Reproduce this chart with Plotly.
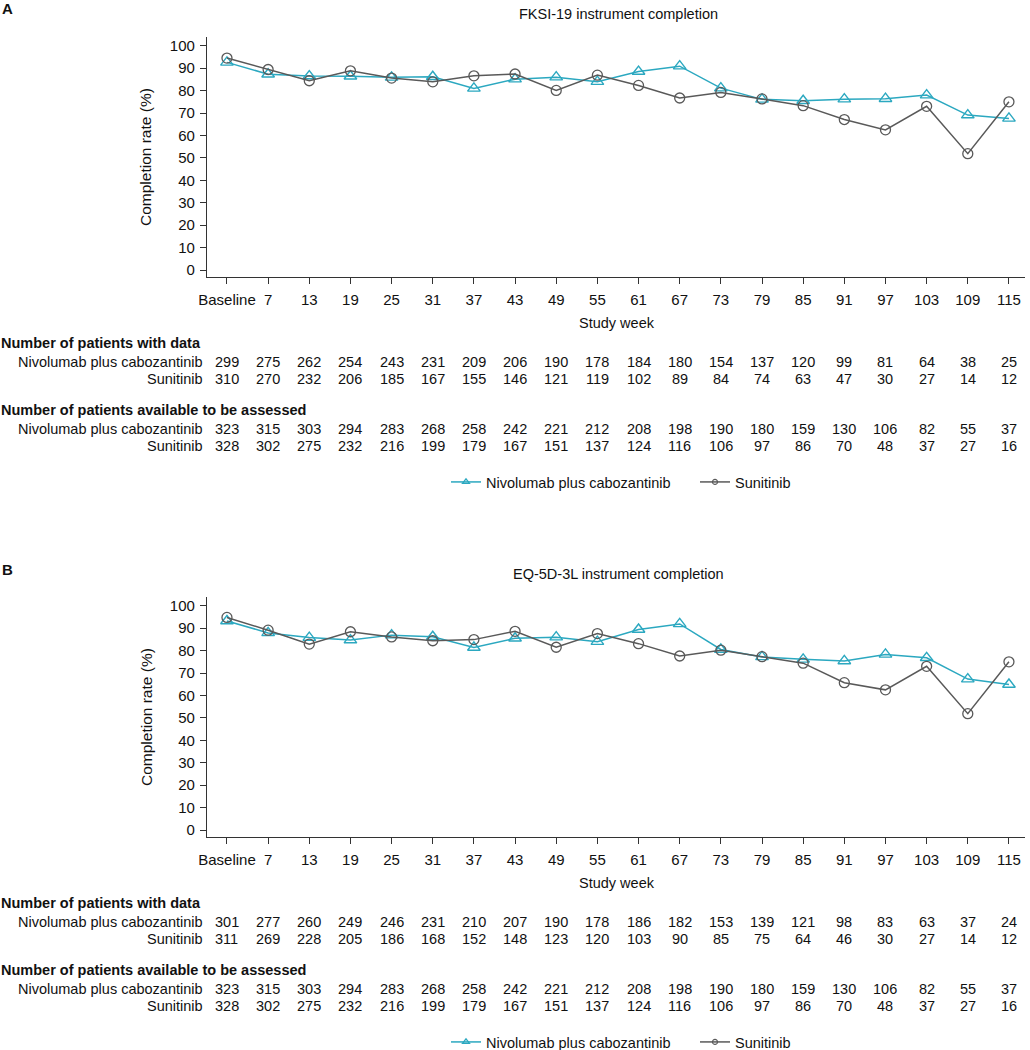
import plotly.graph_objects as go

W, H = 1030, 1050
FONT = "Liberation Sans, Arial, Helvetica, sans-serif"
TEAL = "#2BA8C0"
GREY = "#595959"
INK = "#111111"

weeks = ["Baseline", "7", "13", "19", "25", "31", "37", "43", "49", "55", "61",
         "67", "73", "79", "85", "91", "97", "103", "109", "115"]

# Panel A - FKSI-19 completion rate (%)
fksi_nivo = [92.6, 87.3, 86.5, 86.4, 85.9, 86.2, 81.0, 85.1, 86.0, 84.0, 88.5,
             90.9, 81.1, 76.1, 75.5, 76.2, 76.4, 78.0, 69.1, 67.6]
fksi_suni = [94.5, 89.4, 84.4, 88.8, 85.6, 83.9, 86.6, 87.4, 80.1, 86.9, 82.3,
             76.7, 79.2, 76.3, 73.3, 67.1, 62.5, 73.0, 51.9, 75.0]
fksi_data_nivo = [299, 275, 262, 254, 243, 231, 209, 206, 190, 178, 184, 180, 154, 137, 120, 99, 81, 64, 38, 25]
fksi_data_suni = [310, 270, 232, 206, 185, 167, 155, 146, 121, 119, 102, 89, 84, 74, 63, 47, 30, 27, 14, 12]

# Panel B - EQ-5D-3L completion rate (%)
eq_nivo = [93.2, 87.9, 85.8, 84.7, 86.9, 86.2, 81.4, 85.5, 86.0, 84.0, 89.4,
           91.9, 80.5, 77.2, 76.1, 75.4, 78.3, 76.8, 67.3, 64.9]
eq_suni = [94.8, 89.1, 82.9, 88.4, 86.1, 84.4, 84.9, 88.6, 81.5, 87.6, 83.1,
           77.6, 80.2, 77.3, 74.4, 65.7, 62.5, 73.0, 51.9, 75.0]
eq_data_nivo = [301, 277, 260, 249, 246, 231, 210, 207, 190, 178, 186, 182, 153, 139, 121, 98, 83, 63, 37, 24]
eq_data_suni = [311, 269, 228, 205, 186, 168, 152, 148, 123, 120, 103, 90, 85, 75, 64, 46, 30, 27, 14, 12]

# same for both instruments
avail_nivo = [323, 315, 303, 294, 283, 268, 258, 242, 221, 212, 208, 198, 190, 180, 159, 130, 106, 82, 55, 37]
avail_suni = [328, 302, 275, 232, 216, 199, 179, 167, 151, 137, 124, 116, 106, 97, 86, 70, 48, 37, 27, 16]

NIVO = "Nivolumab plus cabozantinib"
SUNI = "Sunitinib"


def px(x):
    return x / W


def py(y):
    return 1 - y / H


xi = list(range(len(weeks)))
fig = go.Figure()

panels = [
    ("A", "FKSI-19 instrument completion", fksi_nivo, fksi_suni, fksi_data_nivo, fksi_data_suni, 0, "", "legend"),
    ("B", "EQ-5D-3L instrument completion", eq_nivo, eq_suni, eq_data_nivo, eq_data_suni, 560, "2", "legend2"),
]

annotations = []
for letter, title, nivo, suni, d_nivo, d_suni, off, ax, leg in panels:
    xa, ya = "x" + ax, "y" + ax
    fig.add_trace(go.Scatter(x=xi, y=nivo, mode="lines+markers", name=NIVO, showlegend=False,
                             xaxis=xa, yaxis=ya, line=dict(color=TEAL, width=1.5),
                             marker=dict(symbol="triangle-up-open", size=11, color=TEAL, line=dict(width=1.4))))
    fig.add_trace(go.Scatter(x=xi, y=suni, mode="lines+markers", name=SUNI, showlegend=False,
                             xaxis=xa, yaxis=ya, line=dict(color=GREY, width=1.5),
                             marker=dict(symbol="circle-open", size=10, color=GREY, line=dict(width=1.3))))
    # legend entries with small symbols, as in the original figure
    fig.add_trace(go.Scatter(x=[None], y=[None], mode="lines+markers", name=NIVO, legend=leg,
                             xaxis=xa, yaxis=ya, line=dict(color=TEAL, width=1.5),
                             marker=dict(symbol="triangle-up-open", size=6, color=TEAL, line=dict(width=1.3))))
    fig.add_trace(go.Scatter(x=[None], y=[None], mode="lines+markers", name=SUNI, legend=leg,
                             xaxis=xa, yaxis=ya, line=dict(color=GREY, width=1.5),
                             marker=dict(symbol="circle-open", size=5, color=GREY, line=dict(width=1.2))))

    annotations.append(dict(text=f"<b>{letter}</b>", x=px(0), y=py(9 + off), xref="paper", yref="paper",
                            xanchor="left", yanchor="middle", showarrow=False, font=dict(size=15)))
    annotations.append(dict(text=title, x=px(618), y=py(14 + off), xref="paper", yref="paper",
                            xanchor="center", yanchor="middle", showarrow=False, font=dict(size=14.5)))
    annotations.append(dict(text="Completion rate (%)", x=px(146), y=py(157 + off), xref="paper", yref="paper",
                            textangle=-90, xanchor="center", yanchor="middle", showarrow=False,
                            font=dict(size=15.5)))
    annotations.append(dict(text="Study week", x=px(617), y=py(323 + off), xref="paper", yref="paper",
                            xanchor="center", yanchor="middle", showarrow=False, font=dict(size=14.5)))

    rows = [
        ("<b>Number of patients with data</b>", None, 343),
        (NIVO, d_nivo, 362),
        (SUNI, d_suni, 379),
        ("<b>Number of patients available to be assessed</b>", None, 410),
        (NIVO, avail_nivo, 429),
        (SUNI, avail_suni, 446),
    ]
    for label, vals, ry in rows:
        if vals is None:
            annotations.append(dict(text=label, x=px(-1), y=py(ry + off), xref="paper", yref="paper",
                                    xanchor="left", yanchor="middle", showarrow=False, font=dict(size=14.5)))
            continue
        annotations.append(dict(text=label, x=px(205), y=py(ry + off), xref="paper", yref="paper",
                                xanchor="right", yanchor="middle", showarrow=False, font=dict(size=14.5)))
        for i, v in zip(xi, vals):
            annotations.append(dict(text=str(v), x=i, y=py(ry + off), xref=xa, yref="paper",
                                    xanchor="center", yanchor="middle", showarrow=False, font=dict(size=14.5)))

axis_common = dict(showline=True, linecolor="#333333", linewidth=1.2, ticks="outside", ticklen=6,
                   tickcolor="#333333", showgrid=False, zeroline=False, automargin=False,
                   tickfont=dict(size=15, color=INK))

layout_axes = {}
for ax, off in [("", 0), ("2", 560)]:
    layout_axes["xaxis" + ax] = dict(axis_common, domain=[px(207), px(1025)], range=[-0.485, 19.39],
                                     tickmode="array", tickvals=xi, ticktext=weeks,
                                     ticklabelstandoff=3, anchor="y" + ax)
    layout_axes["yaxis" + ax] = dict(axis_common, domain=[py(277 + off), py(37 + off)], range=[-3.1, 103.9],
                                     tickmode="array", tickvals=list(range(0, 101, 10)),
                                     ticklabelstandoff=2, anchor="x" + ax)

legend_common = dict(orientation="h", xanchor="left", yanchor="middle", bgcolor="rgba(0,0,0,0)",
                     font=dict(size=14.5, color=INK), itemwidth=30, tracegroupgap=0,
                     entrywidth=204, entrywidthmode="pixels")

fig.update_layout(
    width=W, height=H,
    margin=dict(l=0, r=0, t=0, b=0, autoexpand=False),
    paper_bgcolor="white", plot_bgcolor="white",
    font=dict(family=FONT, color=INK, size=14.5),
    annotations=annotations,
    legend=dict(legend_common, x=px(446), y=py(482)),
    legend2=dict(legend_common, x=px(446), y=py(1042)),
    **layout_axes,
)

fig.write_html("out.html", config={"displayModeBar": False},
               post_script="document.body.style.margin = '0';")
